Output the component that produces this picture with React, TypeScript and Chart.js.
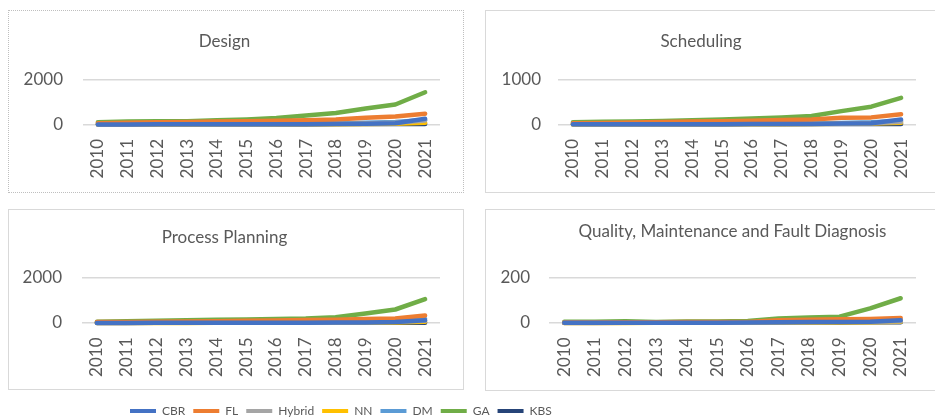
import React, { useEffect, useRef } from "react";
import { Chart, registerables } from "chart.js";

Chart.register(...registerables);

const years = ["2010", "2011", "2012", "2013", "2014", "2015", "2016", "2017", "2018", "2019", "2020", "2021"];
const seriesNames = ["CBR", "FL", "Hybrid", "NN", "DM", "GA", "KBS"];
const seriesColors = ["#4472C4", "#ED7D31", "#A5A5A5", "#FFC000", "#5B9BD5", "#70AD47", "#264478"];

// Design
const designCBR = [5, 5, 8, 8, 10, 10, 12, 15, 20, 35, 60, 260];
const designFL = [60, 80, 100, 110, 130, 150, 170, 190, 230, 300, 360, 480];
const designHybrid = [5, 5, 8, 10, 12, 15, 20, 25, 35, 50, 80, 180];
const designNN = [3, 3, 5, 5, 8, 8, 10, 12, 15, 20, 30, 80];
const designDM = [10, 12, 15, 18, 20, 25, 30, 40, 50, 80, 110, 200];
const designGA = [100, 130, 150, 150, 190, 230, 290, 400, 520, 720, 900, 1450];
const designKBS = [10, 10, 12, 12, 12, 15, 15, 15, 18, 20, 22, 25];

// Scheduling
const schedCBR = [3, 4, 5, 6, 7, 8, 9, 10, 12, 20, 30, 110];
const schedFL = [30, 35, 45, 55, 65, 75, 85, 100, 110, 150, 160, 230];
const schedHybrid = [3, 4, 5, 6, 7, 8, 10, 12, 15, 22, 30, 60];
const schedNN = [2, 3, 3, 4, 5, 6, 7, 8, 10, 15, 20, 40];
const schedDM = [5, 6, 8, 10, 12, 14, 16, 20, 25, 35, 50, 80];
const schedGA = [50, 60, 70, 80, 95, 115, 135, 160, 190, 300, 400, 600];
const schedKBS = [6, 6, 7, 7, 8, 8, 9, 9, 10, 10, 12, 12];

// Process Planning
const procCBR = [4, 5, 6, 8, 10, 12, 14, 16, 18, 25, 40, 120];
const procFL = [40, 50, 60, 70, 80, 100, 110, 130, 150, 180, 200, 330];
const procHybrid = [5, 5, 8, 10, 12, 15, 18, 20, 25, 35, 50, 100];
const procNN = [3, 3, 4, 5, 6, 6, 8, 10, 12, 15, 20, 50];
const procDM = [10, 10, 15, 15, 20, 25, 30, 35, 40, 50, 70, 180];
const procGA = [60, 80, 100, 120, 140, 160, 180, 200, 260, 420, 600, 1060];
const procKBS = [8, 8, 10, 10, 10, 12, 12, 12, 14, 14, 15, 16];

// Quality, Maintenance and Fault Diagnosis
const qualCBR = [1, 1, 1, 1, 1, 1, 2, 3, 4, 5, 6, 12];
const qualFL = [2, 2, 3, 3, 4, 4, 5, 12, 15, 17, 18, 22];
const qualHybrid = [0, 0, 1, 1, 1, 1, 2, 3, 4, 5, 6, 8];
const qualNN = [0, 0, 0, 1, 1, 1, 1, 2, 2, 3, 3, 5];
const qualDM = [1, 1, 1, 1, 2, 2, 2, 3, 4, 5, 6, 8];
const qualGA = [6, 6, 8, 5, 7, 7, 9, 20, 25, 28, 65, 110];
const qualKBS = [1, 1, 2, 1, 1, 1, 2, 2, 2, 2, 3, 3];

const FONT = "Lato";
const TEXT = "#595959";

type PanelCfg = {
  title: string;
  values: number[][];
  max: number;
  left: number;
  top: number;
  w: number;
  h: number;
  dotted?: boolean;
  chartLeft: number;
  padRight: number;
  titleTop: number;
  titleBottom: number;
  xHeight: number;
  yPad: number;
  fullSize: boolean;
};

const panels: PanelCfg[] = [
  {
    title: "Design",
    values: [designCBR, designFL, designHybrid, designNN, designDM, designGA, designKBS],
    max: 2000,
    left: 8, top: 10, w: 456, h: 183, dotted: true,
    chartLeft: 74, padRight: 23, titleTop: 20, titleBottom: 28.6, xHeight: 67.5, yPad: 20, fullSize: true,
  },
  {
    title: "Scheduling",
    values: [schedCBR, schedFL, schedHybrid, schedNN, schedDM, schedGA, schedKBS],
    max: 1000,
    left: 485, top: 10, w: 456, h: 183,
    chartLeft: 72, padRight: 24, titleTop: 20, titleBottom: 28.6, xHeight: 67.5, yPad: 17, fullSize: true,
  },
  {
    title: "Process Planning",
    values: [procCBR, procFL, procHybrid, procNN, procDM, procGA, procKBS],
    max: 2000,
    left: 8, top: 209, w: 456, h: 181,
    chartLeft: 73, padRight: 23, titleTop: 17.8, titleBottom: 29.8, xHeight: 66, yPad: 20, fullSize: true,
  },
  {
    title: "Quality, Maintenance and Fault Diagnosis",
    values: [qualCBR, qualFL, qualHybrid, qualNN, qualDM, qualGA, qualKBS],
    max: 200,
    left: 485, top: 209, w: 456, h: 182,
    chartLeft: 63, padRight: 24, titleTop: 11.8, titleBottom: 35.8, xHeight: 67, yPad: 19, fullSize: false,
  },
];

function Panel({ cfg }: { cfg: PanelCfg }) {
  const ref = useRef<HTMLCanvasElement | null>(null);
  useEffect(() => {
    if (!ref.current) return;
    const font = { family: FONT, size: 17, weight: "normal" as const };
    const chart = new Chart(ref.current, {
      type: "line",
      data: {
        labels: years,
        datasets: seriesNames.map((name, i) => ({
          label: name,
          data: cfg.values[i],
          borderColor: seriesColors[i],
          backgroundColor: seriesColors[i],
          borderWidth: 4.5,
          pointRadius: 0,
          tension: 0,
          clip: false as any,
          borderCapStyle: "round" as const,
          borderJoinStyle: "round" as const,
        })),
      },
      options: {
        animation: false,
        responsive: false,
        events: [],
        layout: { padding: { top: 0, left: 0, right: cfg.padRight, bottom: 0 } },
        plugins: {
          legend: { display: false },
          tooltip: { enabled: false },
          title: {
            display: true,
            text: cfg.title,
            color: TEXT,
            font,
            padding: { top: cfg.titleTop, bottom: cfg.titleBottom },
            fullSize: cfg.fullSize,
          },
        },
        scales: {
          x: {
            offset: true,
            grid: { display: false, drawTicks: false },
            border: { display: false },
            ticks: { color: TEXT, font, padding: 14.5, minRotation: 90, maxRotation: 90, autoSkip: false },
            afterFit: (s: any) => {
              s.height = cfg.xHeight;
            },
          },
          y: {
            min: 0,
            max: cfg.max,
            grid: { color: "#d9d9d9", lineWidth: 1.5, drawTicks: false },
            border: { display: false },
            ticks: {
              stepSize: cfg.max,
              color: TEXT,
              font,
              padding: cfg.yPad,
              callback: (v: any) => String(v),
            },
            afterFit: (s: any) => {
              s.width = cfg.chartLeft;
            },
          },
        },
      } as any,
    });
    return () => chart.destroy();
  }, [cfg]);
  return (
    <div
      style={{
        position: "absolute",
        left: cfg.left,
        top: cfg.top,
        width: cfg.w,
        height: cfg.h,
        boxSizing: "border-box",
        border: cfg.dotted ? "1px dotted #bfbfbf" : "1px solid #d9d9d9",
        background: "#fff",
      }}
    >
      <canvas ref={ref} width={cfg.w - 2} height={cfg.h - 2} style={{ display: "block" }} />
    </div>
  );
}

function Legend() {
  const ref = useRef<HTMLCanvasElement | null>(null);
  useEffect(() => {
    if (!ref.current) return;
    const chart = new Chart(ref.current, {
      type: "line",
      data: {
        labels: [],
        datasets: seriesNames.map((name, i) => ({
          label: name,
          data: [],
          borderColor: seriesColors[i],
          backgroundColor: seriesColors[i],
          borderWidth: 0,
        })),
      },
      options: {
        animation: false,
        responsive: false,
        events: [],
        layout: { padding: 0 },
        scales: { x: { display: false }, y: { display: false } },
        plugins: {
          tooltip: { enabled: false },
          legend: {
            display: true,
            position: "top",
            align: "start",
            labels: {
              boxWidth: 26,
              boxHeight: 4,
              padding: 8,
              color: TEXT,
              font: { family: FONT, size: 12 },
            },
          },
        },
      } as any,
    });
    return () => chart.destroy();
  }, []);
  return (
    <canvas
      ref={ref}
      width={600}
      height={80}
      style={{ position: "absolute", left: 122, top: 397, display: "block" }}
    />
  );
}

export default function App() {
  return (
    <div
      style={{
        position: "absolute",
        left: 0,
        top: 0,
        width: 935,
        height: 419,
        overflow: "hidden",
        background: "#fff",
      }}
    >
      {panels.map((p) => (
        <Panel key={p.title} cfg={p} />
      ))}
      <Legend />
    </div>
  );
}
